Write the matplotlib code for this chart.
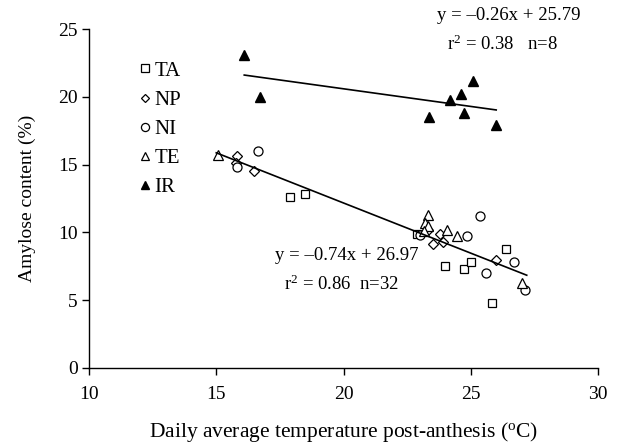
import matplotlib
matplotlib.use("Agg")
import matplotlib.pyplot as plt
import numpy as np

plt.rcParams["font.family"] = ["Liberation Serif", "DejaVu Serif"]
plt.rcParams["mathtext.fontset"] = "custom"
plt.rcParams["mathtext.rm"] = "Liberation Serif"
plt.rcParams["mathtext.it"] = "Liberation Serif:italic"

# cultivar data: temperature (C) vs amylose content (%)
ta_x = [17.9, 18.5, 22.9, 24.0, 24.75, 25.0, 26.4, 25.85]
ta_y = [12.6, 12.8, 9.9, 7.55, 7.3, 7.85, 8.8, 4.8]
np_x = [15.83, 15.78, 16.5, 23.5, 23.9, 26.0, 23.8, 23.33]
np_y = [15.6, 15.1, 14.5, 9.15, 9.3, 8.0, 9.9, 10.2]
ni_x = [15.8, 16.65, 23.0, 24.85, 25.35, 25.6, 26.7, 27.15]
ni_y = [14.85, 16.0, 9.8, 9.75, 11.2, 7.0, 7.85, 5.75]
te_x = [15.05, 23.33, 23.2, 24.05, 24.45, 27.03, 23.32, 23.15]
te_y = [15.7, 11.3, 10.7, 10.2, 9.75, 6.25, 10.45, 10.1]
ir_x = [16.1, 16.7, 23.35, 24.2, 24.6, 25.1, 24.75, 26.0]
ir_y = [23.1, 20.0, 18.5, 19.8, 20.2, 21.2, 18.8, 17.9]

# fitted lines
low_slope, low_icpt, low_range = -0.74, 26.97, (15.0, 27.2)
ir_slope, ir_icpt, ir_range = -0.26, 25.79, (16.1, 26.0)

fig = plt.figure(figsize=(6.19, 4.47), dpi=100)
ax = fig.add_axes([89 / 619, 79 / 447, (598 - 89) / 619, (368 - 29) / 447])

mk = dict(linestyle="none", markerfacecolor="white", markeredgecolor="black",
          markeredgewidth=0.9, clip_on=False)
ax.plot(ta_x, ta_y, marker="s", markersize=6, label="TA", **mk)
ax.plot(np_x, np_y, marker="D", markersize=5, label="NP", **mk)
ax.plot(ni_x, ni_y, marker="o", markersize=6.5, label="NI", **mk)
ax.plot(te_x, te_y, marker="^", markersize=7, label="TE", **mk)
ax.plot(ir_x, ir_y, marker="^", markersize=7, linestyle="none", color="black",
        label="IR", clip_on=False)

for slope, icpt, rng in [(low_slope, low_icpt, low_range), (ir_slope, ir_icpt, ir_range)]:
    xs = np.array(rng)
    ax.plot(xs, slope * xs + icpt, color="black", linewidth=1.2)

ax.set_xlim(10, 30)
ax.set_ylim(0, 25)
ax.set_xticks([10, 15, 20, 25, 30])
ax.set_yticks([0, 5, 10, 15, 20, 25])
for s in ["top", "right"]:
    ax.spines[s].set_visible(False)
for s in ["left", "bottom"]:
    ax.spines[s].set_linewidth(1.0)
ax.tick_params(axis="both", direction="out", length=5, width=1.0, labelsize=14)
ax.tick_params(axis="x", pad=8)
ax.tick_params(axis="y", pad=3)

ax.set_xlabel("Daily average temperature post-anthesis ($^{\\rm o}$C)", fontsize=15.5, labelpad=12)
ax.set_ylabel("Amylose content (%)", fontsize=14, labelpad=16)

leg = ax.legend(loc="upper left", bbox_to_anchor=(0.1, 0.905), frameon=False,
                fontsize=15, handlelength=0.5, handletextpad=0.2, labelspacing=0.46,
                markerscale=0.9, borderaxespad=0, borderpad=0)

def ftext(px, py, s):
    fig.text(px / 619, 1 - py / 447, s, fontsize=13.5, va="center", ha="left")

ftext(275, 256, "y = \u20130.74x + 26.97")
ftext(284, 284, "r$^2$ = 0.86  n=32")
ftext(437, 16, "y = \u20130.26x + 25.79")
ftext(447, 44, "r$^2$ = 0.38   n=8")

fig.savefig("out.png", dpi=100)
plt.close(fig)
